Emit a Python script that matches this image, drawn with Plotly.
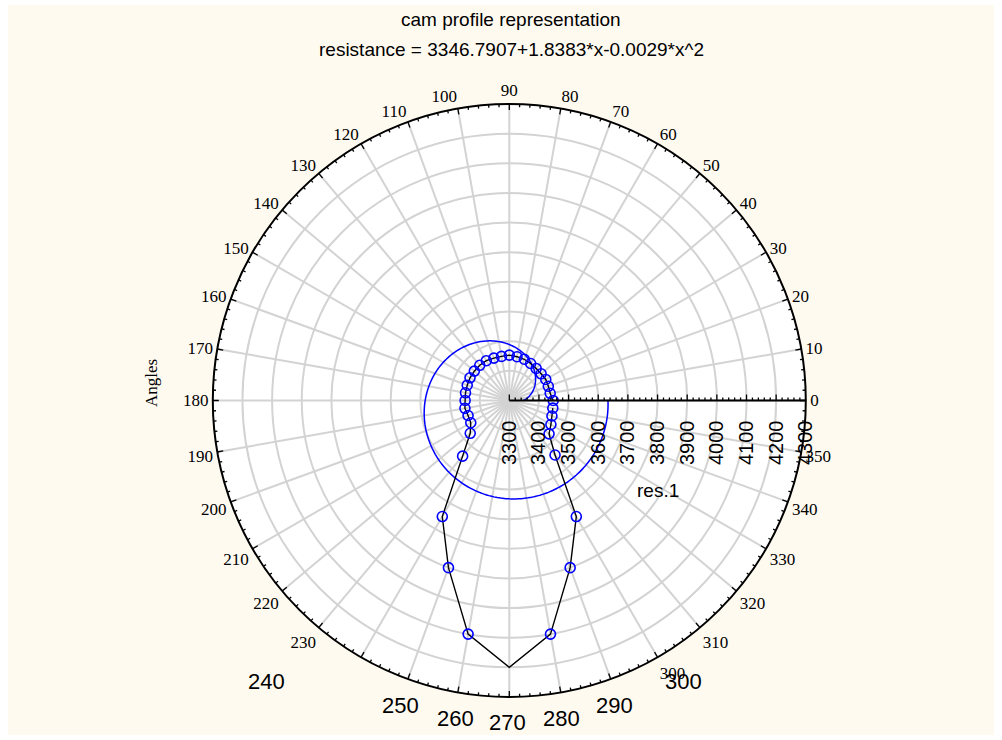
import math
import numpy as np
import plotly.graph_objects as go

# ---- measured cam profile: angle (deg) vs resistance ----
ANGLES = list(range(0, 360, 10))
RESISTANCE = [3448, 3440, 3440, 3442, 3440, 3441, 3444, 3448, 3450, 3453,
              3451, 3452, 3455, 3455, 3454, 3453, 3451, 3450, 3449, 3452,
              3448, 3450, 3472, 3545, 3752, 3900, 4100, 4200, 4100, 3900,
              3752, 3540, 3475, 3462, 3453, 3449]
UNMARKED_ANGLES = [270]

# quadratic fit: resistance = c0 + c1*x + c2*x^2
FIT_COEFFS = [3346.7907, 1.8383, -0.0029]
FIT_ANGLES = np.arange(0, 361, 1)

R_RANGE = [3300, 4300]
R_MAJOR, R_MINOR = 100, 20
A_MAJOR, A_MINOR = 10, 2

# angle labels: serif ring labels, with the bottom ones set in a larger sans face
ANGLE_TICKS = list(range(0, 360, A_MAJOR))
SANS_ANGLE_TICKS = [240, 250, 260, 270, 280, 290]
BOTTOM_LABELS = ["240", "250", "260", "270", "280", "290", "300"]
BOTTOM_LABEL_PX = [(266, 681), (400, 705), (455, 718), (508, 722),
                   (561, 718), (614, 705), (683, 681)]

W, H = 1002, 740
CX, CY, RPX = 509.3, 400.5, 296.5
CREAM = "#FFFAF0"
GRID = "#D3D3D3"
SANS = "Arial, Liberation Sans, sans-serif"
SERIF = "Times New Roman, Liberation Serif, serif"

fit_r = [FIT_COEFFS[0] + FIT_COEFFS[1] * a + FIT_COEFFS[2] * a * a for a in FIT_ANGLES]
mk_theta = [a for a in ANGLES if a not in UNMARKED_ANGLES]
mk_r = [r for a, r in zip(ANGLES, RESISTANCE) if a not in UNMARKED_ANGLES]

span = R_RANGE[1] - R_RANGE[0]


def px_to_r(p):
    return R_RANGE[0] + p / RPX * span


# radial-axis ticks drawn above the axis line
rt_r, rt_t = [], []
for v in range(R_RANGE[0], R_RANGE[1] + 1, R_MINOR):
    h = 6 if (v - R_RANGE[0]) % R_MAJOR == 0 else 3
    x = (v - R_RANGE[0]) / span * RPX
    rt_r += [v, px_to_r(math.hypot(x, h)), None]
    rt_t += [0, math.degrees(math.atan2(h, x)), None]

# angular ticks pointing inward from the rim
at_r, at_t = [], []
for a in range(0, 360, A_MINOR):
    h = 6 if a % A_MAJOR == 0 else 3
    at_r += [R_RANGE[1], px_to_r(RPX - h), None]
    at_t += [a, a, None]

fig = go.Figure()
fig.add_trace(go.Scatterpolar(r=fit_r, theta=FIT_ANGLES, mode="lines",
                              line=dict(color="#0000FF", width=1.5),
                              showlegend=False, hoverinfo="skip"))
fig.add_trace(go.Scatterpolar(r=RESISTANCE, theta=ANGLES, mode="lines",
                              line=dict(color="black", width=1.4),
                              showlegend=False))
fig.add_trace(go.Scatterpolar(r=mk_r, theta=mk_theta, mode="markers",
                              marker=dict(symbol="circle-open", size=10, color="#0000FF",
                                          line=dict(width=1.6, color="#0000FF")),
                              showlegend=False))
fig.add_trace(go.Scatterpolar(r=rt_r, theta=rt_t, mode="lines",
                              line=dict(color="black", width=1.3),
                              showlegend=False, hoverinfo="skip", cliponaxis=False))
fig.add_trace(go.Scatterpolar(r=at_r, theta=at_t, mode="lines",
                              line=dict(color="black", width=1.3),
                              showlegend=False, hoverinfo="skip", cliponaxis=False))

dom_x = [(CX - RPX) / W, (CX + RPX) / W]
dom_y = [(H - CY - RPX) / H, (H - CY + RPX) / H]

fig.update_layout(
    width=W, height=H,
    margin=dict(l=0, r=0, t=0, b=0),
    paper_bgcolor="white",
    showlegend=False,
    polar=dict(
        domain=dict(x=dom_x, y=dom_y),
        bgcolor="white",
        radialaxis=dict(range=R_RANGE, angle=0, tickangle=-90, dtick=R_MAJOR,
                        tick0=R_RANGE[0], showline=True, linecolor="black",
                        linewidth=2, ticks="", showgrid=True, gridcolor=GRID,
                        gridwidth=1.5, ticksuffix="\u00a0\u00a0",
                        tickfont=dict(family=SANS, size=20, color="black"),
                        side="clockwise"),
        angularaxis=dict(rotation=0, direction="counterclockwise",
                         tickmode="array", tickvals=ANGLE_TICKS,
                         ticktext=["" if a in SANS_ANGLE_TICKS else str(a) for a in ANGLE_TICKS],
                         showline=True, linecolor="black", linewidth=2,
                         ticks="", showgrid=True, gridcolor=GRID, gridwidth=1.5,
                         tickfont=dict(family=SERIF, size=17, color="black")),
    ),
    shapes=[dict(type="rect", xref="paper", yref="paper", layer="below",
                 x0=8 / W, x1=994 / W, y0=1 - 735 / H, y1=1 - 5 / H,
                 fillcolor=CREAM, line=dict(width=0))],
)

ann = [
    dict(text="cam profile representation", x=511 / W, y=1 - 20 / H,
         font=dict(family=SANS, size=19, color="black")),
    dict(text="resistance = 3346.7907+1.8383*x-0.0029*x^2", x=511 / W, y=1 - 50 / H,
         font=dict(family=SANS, size=19, color="black")),
    dict(text="Angles", x=151 / W, y=1 - 383 / H, textangle=-90,
         font=dict(family=SERIF, size=17, color="black")),
    dict(text="res.1", x=658 / W, y=1 - 490 / H,
         font=dict(family=SANS, size=19, color="black")),
]
for lab, (px, py) in zip(BOTTOM_LABELS, BOTTOM_LABEL_PX):
    ann.append(dict(text=lab, x=px / W, y=1 - py / H,
                    font=dict(family=SANS, size=22, color="black")))
for a in ann:
    a.update(xref="paper", yref="paper", showarrow=False,
             xanchor="center", yanchor="middle")
fig.update_layout(annotations=ann)

fig.write_html("out.html")
